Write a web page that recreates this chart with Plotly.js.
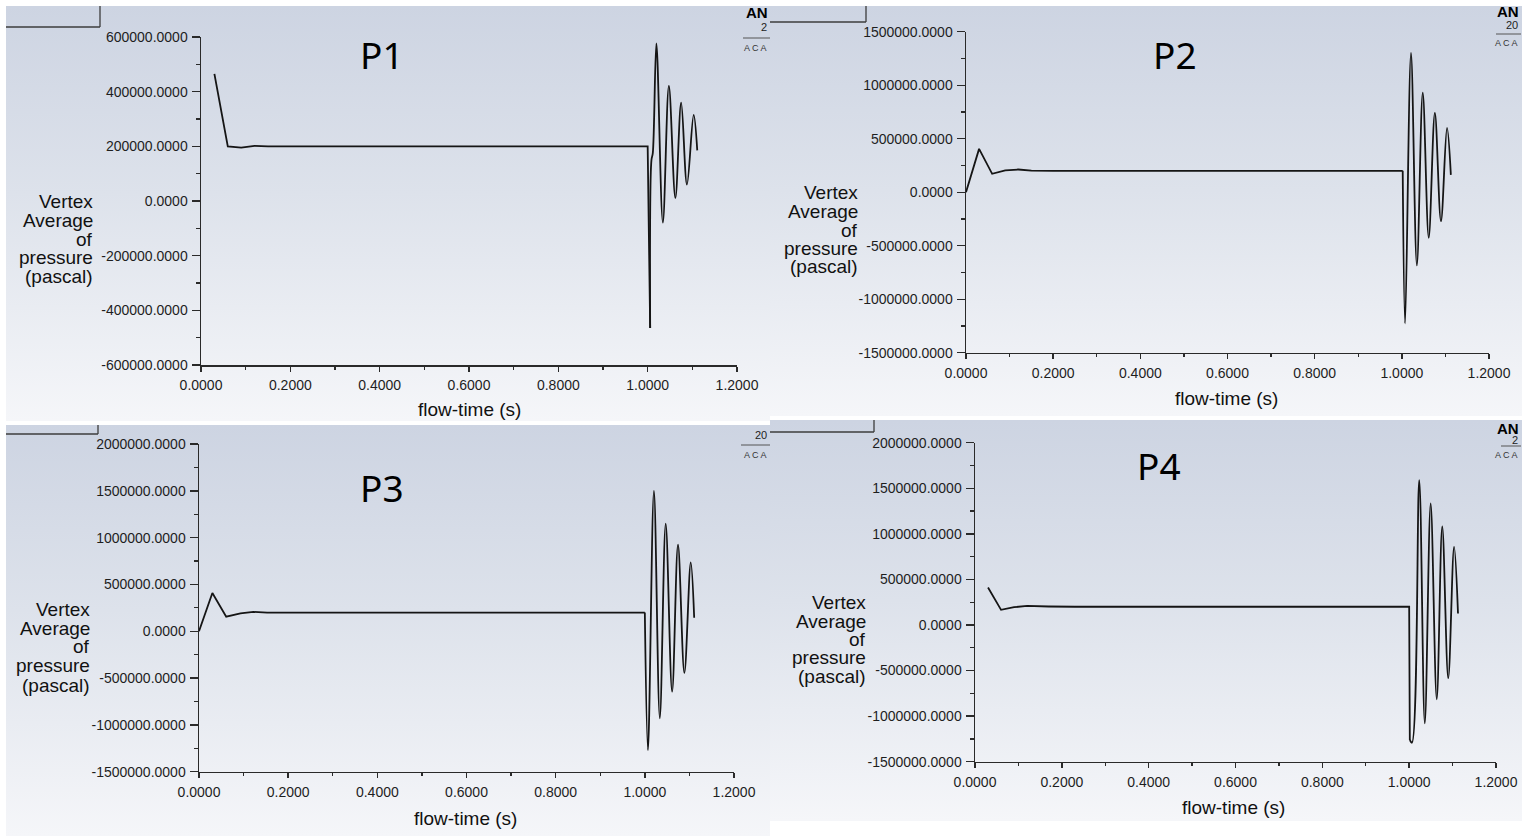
<!DOCTYPE html>
<html><head><meta charset="utf-8">
<script src="https://cdn.plot.ly/plotly-3.0.1.min.js"></script>
<style>
html,body{margin:0;padding:0;background:#fff;width:1522px;height:836px;overflow:hidden;}
#wrap{position:relative;width:1522px;height:836px;}
.bg{position:absolute;background:linear-gradient(to bottom,#cdd4e2 0%,#dde2eb 45%,#f5f6f9 100%);}
#chart{position:absolute;left:0;top:0;width:1522px;height:836px;}
</style></head><body>
<div id="wrap">
<div class="bg" style="left:6px;top:6px;width:764px;height:415px"></div>
<div class="bg" style="left:770px;top:6px;width:752px;height:410px"></div>
<div class="bg" style="left:6px;top:425px;width:764px;height:411px"></div>
<div class="bg" style="left:770px;top:420px;width:752px;height:401px"></div>
<div id="chart"></div>
</div>
<script>
// ---------------- data ----------------
const panelTitles = ['P1', 'P2', 'P3', 'P4'];
const xTitle = 'flow-time (s)';
const yTitleLines = ['Vertex', 'Average', 'of', 'pressure', '(pascal)'];
const xTickVals = [0, 0.2, 0.4, 0.6, 0.8, 1.0, 1.2];
const p1YTickVals = [-600000, -400000, -200000, 0, 200000, 400000, 600000];
const p2YTickVals = [-1500000, -1000000, -500000, 0, 500000, 1000000, 1500000];
const p34YTickVals = [-1500000, -1000000, -500000, 0, 500000, 1000000, 1500000, 2000000];
const logoTexts = ['AN', 'A C A'];
const logoYears = ['2', '20', '20', '2'];

// P1
const p1StartTime = [0.03, 0.06, 0.09, 0.12, 0.15, 1.0, 1.0056];
const p1StartPressure = [465000, 200000, 195000, 202000, 200000, 200000, -465000];
const p1WaveTime = [1.0056, 1.0085, 1.0115, 1.0195, 1.034, 1.0475, 1.062, 1.075, 1.088, 1.103, 1.111];
const p1WavePressure = [-465000, 150000, 175000, 577000, -79000, 421000, 11000, 360000, 60000, 315000, 185000];

// P2
const p2StartTime = [0, 0.03, 0.06, 0.09, 0.12, 0.15, 0.2, 1.002];
const p2StartPressure = [0, 405000, 172000, 204000, 212000, 202000, 200000, 200000];
const p2WaveTime = [1.002, 1.0075, 1.021, 1.0345, 1.048, 1.0617, 1.0758, 1.0898, 1.1037, 1.1125];
const p2WavePressure = [200000, -1226000, 1302000, -684000, 930000, -426000, 741000, -271000, 601000, 162000];

// P3
const p3StartTime = [0, 0.03, 0.061, 0.093, 0.122, 0.153, 0.2, 1.0];
const p3StartPressure = [0, 408000, 155000, 191000, 207000, 198000, 200000, 200000];
const p3WaveTime = [1.0, 1.007, 1.0204, 1.0336, 1.0468, 1.0612, 1.0744, 1.0887, 1.103, 1.1107];
const p3WavePressure = [200000, -1270000, 1500000, -930000, 1150000, -645000, 925000, -445000, 735000, 145000];

// P4
const p4StartTime = [0.03, 0.06, 0.09, 0.12, 0.17, 0.23, 1.0, 1.0015];
const p4StartPressure = [412000, 166000, 195000, 210000, 203000, 200000, 200000, -1262000];
const p4WaveTime = [1.0015, 1.0065, 1.0232, 1.036, 1.0495, 1.0635, 1.0762, 1.09, 1.1035, 1.1125];
const p4WavePressure = [-1262000, -1292000, 1590000, -1080000, 1334000, -815000, 1082000, -583000, 858000, 126000];

// ---------------- layout helpers ----------------
const W = 1522, H = 836;
const fx = p => p / W;
const fy = p => 1 - p / H;

const LINE = '#151515';
const TICKFONT = {family: 'Liberation Sans, Arial, sans-serif', size: 14, color: '#1e1e1e'};
const LABFONT = {family: 'Liberation Sans, Arial, sans-serif', size: 19, color: '#111'};

const panels = [
  {x0: 201, x1: 737, yTop: 37, yBot: 365, yr: [-600000, 600000], yticks: p1YTickVals, yminor: 100000,
   st: p1StartTime, sp: p1StartPressure, wt: p1WaveTime, wp: p1WavePressure,
   titleX: 382, titleY: 55, yLabR: 95, yLabY: [201.5, 220.5, 239, 257.5, 276], xLabX: 469, xLabY: 410},
  {x0: 966, x1: 1489, yTop: 31.7, yBot: 352.7, yr: [-1500000, 1500000], yticks: p2YTickVals, yminor: 250000,
   st: p2StartTime, sp: p2StartPressure, wt: p2WaveTime, wp: p2WavePressure,
   titleX: 1175, titleY: 55, yLabR: 860, yLabY: [192.7, 211.7, 230, 248.3, 266.7], xLabX: 1226, xLabY: 398},
  {x0: 199, x1: 734, yTop: 444, yBot: 771.7, yr: [-1500000, 2000000], yticks: p34YTickVals, yminor: 250000,
   st: p3StartTime, sp: p3StartPressure, wt: p3WaveTime, wp: p3WavePressure,
   titleX: 382, titleY: 487, yLabR: 92, yLabY: [609.3, 628.3, 646.7, 665.7, 685], xLabX: 466, xLabY: 818},
  {x0: 975, x1: 1496, yTop: 442.7, yBot: 761.7, yr: [-1500000, 2000000], yticks: p34YTickVals, yminor: 250000,
   st: p4StartTime, sp: p4StartPressure, wt: p4WaveTime, wp: p4WavePressure,
   titleX: 1159, titleY: 465, yLabR: 868, yLabY: [602.7, 621.7, 639.3, 657.7, 676.7], xLabX: 1233, xLabY: 807}
];

const data = [];
const layout = {
  width: W, height: H,
  margin: {l: 0, r: 0, t: 0, b: 0},
  paper_bgcolor: 'rgba(0,0,0,0)', plot_bgcolor: 'rgba(0,0,0,0)',
  showlegend: false,
  annotations: [], shapes: []
};

panels.forEach((p, i) => {
  const n = i === 0 ? '' : String(i + 1);
  const xa = 'x' + n, ya = 'y' + n;
  data.push({x: p.st, y: p.sp, xaxis: xa, yaxis: ya, type: 'scatter', mode: 'lines',
             line: {color: LINE, width: 1.8, shape: 'linear'}, hoverinfo: 'skip'});
  data.push({x: p.wt, y: p.wp, xaxis: xa, yaxis: ya, type: 'scatter', mode: 'lines',
             line: {color: LINE, width: 1.8, shape: 'spline', smoothing: 1}, hoverinfo: 'skip'});
  layout['xaxis' + n] = {
    domain: [fx(p.x0), fx(p.x1)], anchor: ya, range: [0, 1.2],
    showgrid: false, zeroline: false, showline: true, linecolor: '#2a2a2a', linewidth: 1.5,
    ticks: 'outside', ticklen: 5, tickwidth: 1.4, tickcolor: '#2a2a2a',
    tickmode: 'array', tickvals: xTickVals, ticktext: xTickVals.map(v => v.toFixed(4)),
    tickfont: TICKFONT, ticklabelstandoff: 2,
    minor: {ticks: 'outside', ticklen: 3, tickwidth: 1.2, tickcolor: '#2a2a2a', dtick: 0.1, tick0: 0, showgrid: false},
    fixedrange: true
  };
  layout['yaxis' + n] = {
    domain: [fy(p.yBot), fy(p.yTop)], anchor: xa, range: p.yr,
    showgrid: false, zeroline: false, showline: true, linecolor: '#2a2a2a', linewidth: 1.5,
    ticks: 'outside', ticklen: 8, tickwidth: 1.4, tickcolor: '#2a2a2a',
    tickmode: 'array', tickvals: p.yticks, ticktext: p.yticks.map(v => v.toFixed(4)),
    tickfont: TICKFONT, ticklabelstandoff: 1,
    minor: {ticks: 'outside', ticklen: 4, tickwidth: 1.2, tickcolor: '#2a2a2a', dtick: p.yminor, tick0: 0, showgrid: false},
    fixedrange: true
  };
  layout.annotations.push({xref: 'paper', yref: 'paper', x: fx(p.titleX), y: fy(p.titleY),
    xanchor: 'center', yanchor: 'middle', showarrow: false, text: panelTitles[i],
    font: {family: 'Noto Sans, Open Sans, sans-serif', size: 37, color: '#000'}});
  yTitleLines.forEach((t, k) => {
    layout.annotations.push({xref: 'paper', yref: 'paper', x: fx(p.yLabR), y: fy(p.yLabY[k]),
      xanchor: 'right', yanchor: 'middle', showarrow: false, text: t, font: LABFONT});
  });
  layout.annotations.push({xref: 'paper', yref: 'paper', x: fx(p.xLabX), y: fy(p.xLabY),
    xanchor: 'center', yanchor: 'middle', showarrow: false, text: xTitle, font: LABFONT});
});

// top-left box remnants
const boxes = [[6, 27, 100, 6], [770, 22, 866, 6], [6, 434, 98, 425], [770, 432, 874, 420]];
boxes.forEach(b => {
  layout.shapes.push({type: 'line', xref: 'paper', yref: 'paper', x0: fx(b[0]), x1: fx(b[2]), y0: fy(b[1]), y1: fy(b[1]), line: {color: '#3c3c3c', width: 1.3}});
  layout.shapes.push({type: 'line', xref: 'paper', yref: 'paper', x0: fx(b[2]), x1: fx(b[2]), y0: fy(b[3]), y1: fy(b[1]), line: {color: '#3c3c3c', width: 1.3}});
});

// ANSYS logo fragments at the top-right of each panel (right-anchored)
const logos = [
  {showAN: true, rx: 770, ay: 13, yy: 27, lx0: 743, ly: 38, cy: 48},
  {showAN: true, rx: 1521, ay: 12, yy: 25, lx0: 1496, ly: 34, cy: 43},
  {showAN: false, rx: 770, ay: 0, yy: 435, lx0: 741, ly: 445, cy: 455},
  {showAN: true, rx: 1521, ay: 428, yy: 440, lx0: 1501, ly: 446, cy: 455}
];
logos.forEach((g, i) => {
  const f = {family: 'Liberation Sans, Arial, sans-serif', color: '#222'};
  if (g.showAN) {
    layout.annotations.push({xref: 'paper', yref: 'paper', x: fx(g.rx), y: fy(g.ay), xanchor: 'right', yanchor: 'middle',
      showarrow: false, text: '<b>' + logoTexts[0] + '</b>', font: Object.assign({}, f, {size: 15, color: '#000'})});
  }
  layout.annotations.push({xref: 'paper', yref: 'paper', x: fx(g.rx - 1), y: fy(g.yy), xanchor: 'right', yanchor: 'middle',
    showarrow: false, text: logoYears[i], font: Object.assign({}, f, {size: 11})});
  layout.shapes.push({type: 'line', xref: 'paper', yref: 'paper', x0: fx(g.lx0), x1: fx(g.rx), y0: fy(g.ly), y1: fy(g.ly), line: {color: '#555', width: 1}});
  layout.annotations.push({xref: 'paper', yref: 'paper', x: fx(g.rx - 1), y: fy(g.cy), xanchor: 'right', yanchor: 'middle',
    showarrow: false, text: logoTexts[1], font: Object.assign({}, f, {size: 9, color: '#333'})});
});

Plotly.newPlot('chart', data, layout, {staticPlot: true, displayModeBar: false});
</script>
</body></html>
